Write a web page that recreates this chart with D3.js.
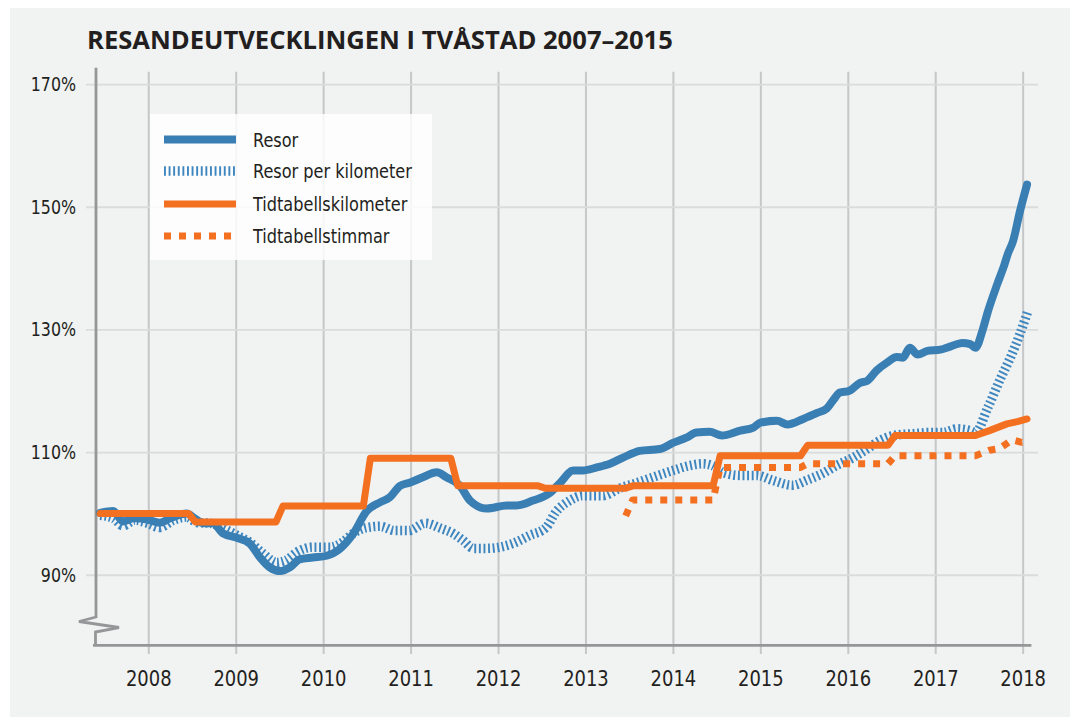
<!DOCTYPE html>
<html>
<head>
<meta charset="utf-8">
<script src="https://cdn.jsdelivr.net/npm/d3@7"></script>
<style>
  body { margin: 0; background: #fff; }
  svg text { font-family: "Liberation Sans Narrow", "DejaVu Sans Condensed", sans-serif; fill: #231f20; }
</style>
</head>
<body>
<div id="chart"></div>
<script>
// values: [year (decimal), index in %]
var resor = [
  [2007.45, 100.1], [2007.60, 100.4], [2007.71, 98.7], [2007.83, 99.2], [2007.99, 99.0],
  [2008.13, 98.5], [2008.25, 99.2], [2008.44, 100.0], [2008.53, 99.2], [2008.63, 98.4],
  [2008.74, 98.4], [2008.85, 96.8], [2009.02, 96.0], [2009.16, 95.1], [2009.28, 92.8],
  [2009.39, 91.2], [2009.51, 90.6], [2009.62, 91.2], [2009.73, 92.5], [2009.88, 92.8],
  [2010.04, 93.1], [2010.19, 94.2], [2010.34, 96.6], [2010.50, 100.4], [2010.65, 101.8],
  [2010.76, 102.6], [2010.88, 104.5], [2010.99, 105.0], [2011.14, 105.9], [2011.30, 106.7],
  [2011.41, 105.9], [2011.56, 104.6], [2011.68, 102.1], [2011.87, 100.8], [2012.10, 101.3],
  [2012.21, 101.3], [2012.40, 102.1], [2012.59, 103.3], [2012.71, 105.0], [2012.86, 107.0],
  [2012.97, 107.0], [2013.13, 107.5], [2013.28, 108.1], [2013.43, 109.1], [2013.62, 110.2],
  [2013.85, 110.5], [2014.00, 111.5], [2014.16, 112.4], [2014.27, 113.2], [2014.42, 113.3],
  [2014.56, 112.7], [2014.77, 113.5], [2014.92, 114.0], [2015.00, 114.8], [2015.19, 115.1],
  [2015.31, 114.5], [2015.49, 115.4], [2015.65, 116.4], [2015.76, 117.1], [2015.83, 118.4],
  [2015.91, 119.7], [2016.02, 120.0], [2016.14, 121.3], [2016.22, 121.6], [2016.33, 123.3],
  [2016.45, 124.6], [2016.56, 125.5], [2016.63, 125.4], [2016.71, 127.0], [2016.80, 125.9],
  [2016.91, 126.5], [2017.06, 126.7], [2017.17, 127.2], [2017.31, 127.8], [2017.40, 127.6],
  [2017.46, 127.0], [2017.54, 129.8], [2017.60, 132.8], [2017.71, 137.4], [2017.79, 140.5],
  [2017.83, 142.3], [2017.89, 144.4], [2017.97, 149.3], [2018.05, 153.6]
];

var resorPerKm = [
  [2007.45, 99.7], [2007.60, 99.2], [2007.71, 98.0], [2007.85, 98.9], [2007.99, 98.4],
  [2008.13, 97.7], [2008.29, 98.9], [2008.44, 99.4], [2008.56, 98.5], [2008.71, 98.4],
  [2008.85, 97.6], [2009.02, 96.4], [2009.16, 95.3], [2009.31, 93.5], [2009.47, 92.0],
  [2009.58, 92.4], [2009.70, 93.7], [2009.88, 94.5], [2010.08, 94.5], [2010.23, 95.4],
  [2010.34, 96.7], [2010.50, 97.7], [2010.65, 97.9], [2010.82, 97.2], [2010.98, 97.2],
  [2011.17, 98.4], [2011.34, 97.6], [2011.49, 96.7], [2011.60, 95.6], [2011.72, 94.3],
  [2011.87, 94.3], [2012.02, 94.5], [2012.17, 95.1], [2012.36, 96.4], [2012.55, 97.7],
  [2012.66, 100.2], [2012.82, 102.1], [2012.97, 102.9], [2013.20, 102.9], [2013.39, 104.1],
  [2013.59, 105.0], [2013.77, 105.9], [2014.00, 107.0], [2014.19, 107.8], [2014.34, 108.1],
  [2014.45, 107.8], [2014.57, 106.7], [2014.77, 106.2], [2014.96, 106.2], [2015.14, 105.4],
  [2015.37, 104.6], [2015.53, 105.4], [2015.71, 106.5], [2015.87, 107.8], [2016.06, 109.1],
  [2016.22, 110.5], [2016.37, 111.9], [2016.52, 112.7], [2016.75, 113.0], [2016.94, 113.2],
  [2017.09, 113.2], [2017.25, 113.8], [2017.40, 113.5], [2017.46, 113.2], [2017.60, 117.2],
  [2017.75, 122.1], [2017.86, 125.4], [2017.97, 129.3], [2018.06, 133.0]
];

var tidtabellKm = [
  [2007.45, 100.0], [2008.46, 100.0], [2008.54, 98.6], [2009.46, 98.6], [2009.54, 101.2],
  [2010.46, 101.2], [2010.54, 109.0], [2011.46, 109.0], [2011.54, 104.5], [2012.46, 104.5],
  [2012.54, 104.1], [2013.46, 104.1], [2013.54, 104.5], [2014.46, 104.5], [2014.54, 109.4],
  [2015.46, 109.4], [2015.54, 111.1], [2016.46, 111.1], [2016.54, 112.7], [2017.46, 112.7],
  [2017.62, 113.5], [2017.82, 114.6], [2017.95, 115.0], [2018.05, 115.4]
];

var tidtabellTim = [
  [2013.46, 99.6], [2013.54, 102.2], [2014.46, 102.2], [2014.54, 107.5], [2015.46, 107.5],
  [2015.54, 108.1], [2016.46, 108.1], [2016.54, 109.4], [2017.46, 109.4], [2017.62, 110.3],
  [2017.74, 110.6], [2017.88, 112.0], [2017.99, 111.6], [2018.04, 111.7]
];

var yearTicks = [2008, 2009, 2010, 2011, 2012, 2013, 2014, 2015, 2016, 2017, 2018];
var pctTicks = [90, 110, 130, 150, 170];
var legendLabels = ["Resor", "Resor per kilometer", "Tidtabellskilometer", "Tidtabellstimmar"];
var title = "RESANDEUTVECKLINGEN I TVÅSTAD 2007–2015";

var width = 1070, height = 717;
var blue = "#3a7fb4", blueLight = "#3d86c0", orange = "#f37021";

var svg = d3.select("#chart").append("svg")
    .attr("width", width)
    .attr("height", height);

svg.append("rect")
    .attr("x", 10).attr("y", 8)
    .attr("width", width - 10).attr("height", height - 8)
    .attr("fill", "#f1f2f2");

var x = d3.scaleLinear().domain([2007.4, 2018.1]).range([95.8, 1031.4]);
var y = d3.scaleLinear().domain([78.5, 172]).range([645.3, 71.8]);

// title, fitted to the width in the picture
var t = svg.append("text")
    .attr("x", 87).attr("y", 49)
    .style("font-family", "'Open Sans', sans-serif")
    .style("font-weight", 700)
    .style("font-size", "24px")
    .text(title);
var tw = t.node().getComputedTextLength();
t.style("font-size", (24 * 586 / tw) + "px");

// vertical grid
svg.append("g")
    .attr("transform", "translate(0,654)")
    .call(d3.axisBottom(x).tickValues(yearTicks).tickSize(-(654 - 71.7)).tickFormat(""))
    .call(function (g) {
        g.select(".domain").remove();
        g.selectAll("line").attr("stroke", "#c6c7c8").attr("stroke-width", 2);
    });

// horizontal grid
svg.append("g")
    .attr("transform", "translate(86,0)")
    .call(d3.axisLeft(y).tickValues(pctTicks).tickSize(-(1038 - 86)).tickFormat(""))
    .call(function (g) {
        g.select(".domain").remove();
        g.selectAll("line").attr("stroke", "#dadbdb").attr("stroke-width", 1.8);
    });

// y axis labels (narrowed like the condensed face of the original)
svg.append("g")
    .attr("transform", "translate(76,0)")
    .call(d3.axisLeft(y).tickValues(pctTicks).tickSize(0).tickPadding(0).tickFormat(function (d) { return d + "%"; }))
    .call(function (g) {
        g.select(".domain").remove();
        g.selectAll("text").attr("font-size", 20).attr("font-family", null).attr("fill", "#231f20")
            .attr("transform", "scale(0.88,1)");
    });

// x axis labels
svg.append("g")
    .attr("transform", "translate(0,671)")
    .call(d3.axisBottom(x).tickValues(yearTicks).tickSize(0).tickPadding(0).tickFormat(function (d) { return d; }))
    .call(function (g) {
        g.select(".domain").remove();
        g.selectAll("text").attr("font-size", 21).attr("font-family", null).attr("fill", "#231f20")
            .attr("transform", "scale(0.95,1)");
    });

// axis lines with the break mark
var axisColor = "#949698";
svg.append("path")
    .attr("d", "M96," + (y(172) - 4) + "V617L79,621.5L119,627.5L95.5,632V" + y(78.5))
    .attr("fill", "none").attr("stroke", axisColor).attr("stroke-width", 2.8);
svg.append("line")
    .attr("x1", 93).attr("x2", x(2018.1))
    .attr("y1", y(78.5)).attr("y2", y(78.5))
    .attr("stroke", axisColor).attr("stroke-width", 2.8);

// series
var smooth = d3.line().x(function (d) { return x(d[0]); }).y(function (d) { return y(d[1]); }).curve(d3.curveMonotoneX);
var straight = d3.line().x(function (d) { return x(d[0]); }).y(function (d) { return y(d[1]); });

var styles = [
    { stroke: blue, width: 8, dash: null, cap: "round" },
    { stroke: blueLight, width: 9.5, dash: "1.9,2.7", cap: "butt" },
    { stroke: orange, width: 7, dash: null, cap: "round" },
    { stroke: orange, width: 7, dash: "7,8", cap: "butt" }
];

function styled(sel, s) {
    return sel.attr("fill", "none")
        .attr("stroke", s.stroke)
        .attr("stroke-width", s.width)
        .attr("stroke-dasharray", s.dash)
        .attr("stroke-linecap", s.cap)
        .attr("stroke-linejoin", "round");
}

styled(svg.append("path").attr("d", smooth(resorPerKm)), styles[1]);
styled(svg.append("path").attr("d", smooth(resor)), styles[0]);
styled(svg.append("path").attr("d", straight(tidtabellKm)), styles[2]);
styled(svg.append("path").attr("d", straight(tidtabellTim)), styles[3]);

// legend
var legend = svg.append("g");
legend.append("rect")
    .attr("x", 150).attr("y", 114)
    .attr("width", 282).attr("height", 146)
    .attr("fill", "#fff").attr("fill-opacity", 0.82);

var rowY = [139.5, 171, 204, 236];
var labels = legendLabels.map(function (label, i) {
    styled(legend.append("path").attr("d", "M164," + rowY[i] + "H236"), styles[i])
        .attr("stroke-linecap", "butt");
    return legend.append("text")
        .attr("font-size", 20)
        .text(label);
});
// squeeze to the width of the condensed face: "Resor per kilometer" is 159px wide
var k = 159 / labels[1].node().getComputedTextLength();
labels.forEach(function (lab, i) {
    lab.attr("transform", "translate(253," + (rowY[i] + 7) + ") scale(" + k + ",1)");
});
</script>
</body>
</html>
